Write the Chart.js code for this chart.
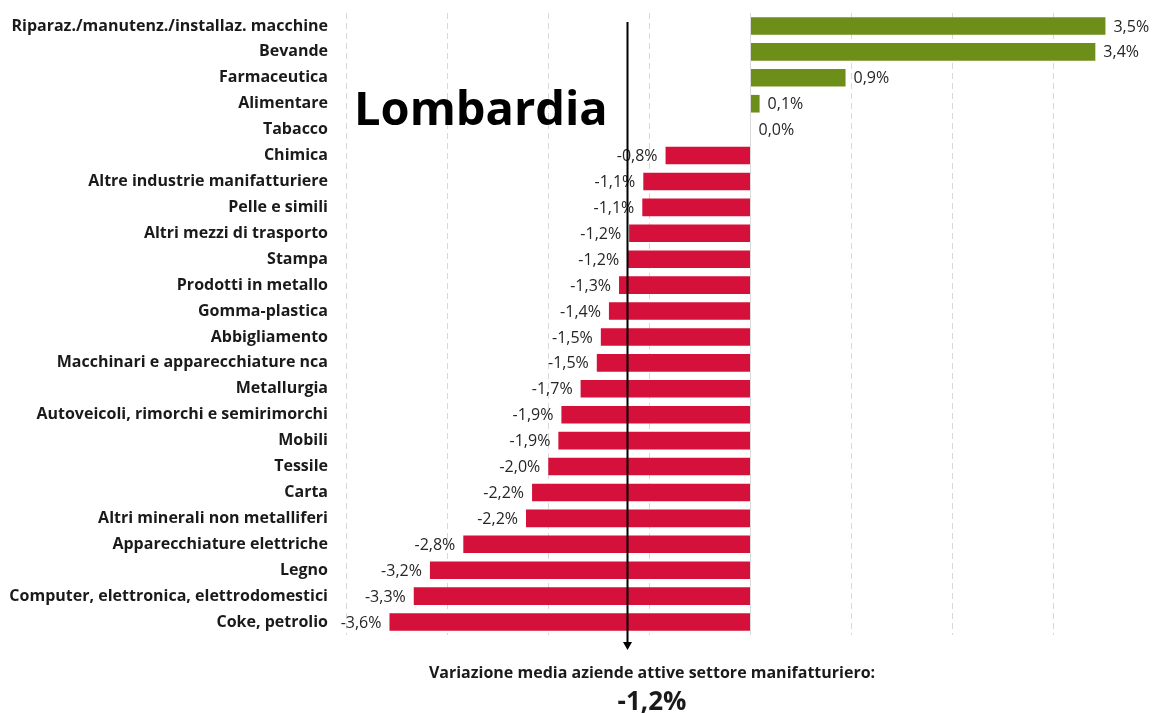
<!DOCTYPE html>
<html>
<head>
<meta charset="utf-8">
<script src="https://cdn.jsdelivr.net/npm/chart.js@4.4.1/dist/chart.umd.min.js"></script>
<style>
    html, body { margin: 0; padding: 0; background: #fff; }
    #wrap { width: 1155px; height: 713px; position: relative; }
</style>
</head>
<body>
<div id="wrap"><canvas id="settori-graph"></canvas></div>
<script>
// dati: variazione % aziende attive per settore manifatturiero, Lombardia
var settori = [
    'Riparaz./manutenz./installaz. macchine', 'Bevande', 'Farmaceutica', 'Alimentare', 'Tabacco',
    'Chimica', 'Altre industrie manifatturiere', 'Pelle e simili', 'Altri mezzi di trasporto', 'Stampa',
    'Prodotti in metallo', 'Gomma-plastica', 'Abbigliamento', 'Macchinari e apparecchiature nca', 'Metallurgia',
    'Autoveicoli, rimorchi e semirimorchi', 'Mobili', 'Tessile', 'Carta', 'Altri minerali non metalliferi',
    'Apparecchiature elettriche', 'Legno', 'Computer, elettronica, elettrodomestici', 'Coke, petrolio'
];
var variazioni = [
    3.51, 3.41, 0.94, 0.09, 0.0,
    -0.84, -1.06, -1.07, -1.20, -1.22,
    -1.30, -1.40, -1.48, -1.52, -1.68,
    -1.87, -1.90, -2.00, -2.16, -2.22,
    -2.84, -3.17, -3.33, -3.57
];
var mediaSettore = -1.22;
var titolo = 'Lombardia';
var notaMedia = 'Variazione media aziende attive settore manifatturiero:';

var VERDE = '#6E8E1A';
var ROSSO = '#D4103B';
var FONT = '"Open Sans", Lato, sans-serif';

function fmt(v) {
    return v.toFixed(1).replace('.', ',') + '%';
}

var annotazioni = {
    id: 'annotazioni',
    afterDatasetsDraw: function (chart) {
        var ctx = chart.ctx;
        var meta = chart.getDatasetMeta(0);
        var xs = chart.scales.x;

        // etichette valori
        ctx.save();
        ctx.font = '16px ' + FONT;
        ctx.fillStyle = '#262626';
        ctx.textBaseline = 'middle';
        meta.data.forEach(function (bar, i) {
            var v = variazioni[i];
            if (v >= 0) {
                ctx.textAlign = 'left';
                ctx.fillText(fmt(v), bar.x + 8, bar.y + 1);
            } else {
                ctx.textAlign = 'right';
                ctx.fillText(fmt(v), bar.x - 8, bar.y + 1);
            }
        });
        ctx.restore();

        // freccia media
        var ax = Math.round(xs.getPixelForValue(mediaSettore)) + 0.5;
        var yTop = 22;
        var yBot = 650;
        ctx.save();
        ctx.strokeStyle = '#000';
        ctx.fillStyle = '#000';
        ctx.lineWidth = 2;
        ctx.beginPath();
        ctx.moveTo(ax, yTop);
        ctx.lineTo(ax, yBot - 6);
        ctx.stroke();
        ctx.beginPath();
        ctx.moveTo(ax - 4.5, yBot - 8);
        ctx.lineTo(ax + 4.5, yBot - 8);
        ctx.lineTo(ax, yBot);
        ctx.closePath();
        ctx.fill();
        ctx.restore();
    },
    afterDraw: function (chart) {
        var ctx = chart.ctx;
        ctx.save();
        ctx.fillStyle = '#000';
        ctx.textBaseline = 'alphabetic';
        ctx.textAlign = 'left';
        ctx.font = 'bold 47px ' + FONT;
        ctx.fillText(titolo, 354, 125);

        ctx.textAlign = 'center';
        ctx.fillStyle = '#1a1a1a';
        ctx.font = 'bold 16px ' + FONT;
        ctx.fillText(notaMedia, 652, 678);
        ctx.font = 'bold 26px ' + FONT;
        ctx.fillText(fmt(mediaSettore), 652, 710);
        ctx.restore();
    }
};

var ctx = document.getElementById('settori-graph').getContext('2d');

new Chart(ctx, {
    type: 'bar',
    data: {
        labels: settori,
        datasets: [{
            label: 'Variazione',
            data: variazioni,
            backgroundColor: variazioni.map(function (v) { return v >= 0 ? VERDE : ROSSO; }),
            borderWidth: 0,
            barPercentage: 0.68,
            categoryPercentage: 1
        }]
    },
    options: {
        indexAxis: 'y',
        responsive: true,
        maintainAspectRatio: false,
        animation: false,
        layout: {
            padding: { top: 13, bottom: 78, left: 0, right: 0 }
        },
        plugins: {
            legend: { display: false },
            tooltip: { enabled: false },
            title: { display: false }
        },
        scales: {
            x: {
                min: -4,
                max: 4,
                ticks: { display: false, stepSize: 1 },
                grid: { color: '#d9d9d9', lineWidth: 1, drawTicks: false },
                border: {
                    display: false,
                    dash: function (c) { return c.tick && c.tick.value === 0 ? [] : [6, 4]; }
                }
            },
            y: {
                grid: { display: false, drawTicks: false },
                border: { display: false },
                ticks: {
                    color: '#1a1a1a',
                    padding: 18,
                    font: { family: FONT, size: 16, weight: 'bold' }
                },
                afterFit: function (scale) {
                    scale.width = 346;
                    scale.paddingTop = 0;
                    scale.paddingBottom = 0;
                }
            }
        }
    },
    plugins: [annotazioni]
});
</script>
</body>
</html>
